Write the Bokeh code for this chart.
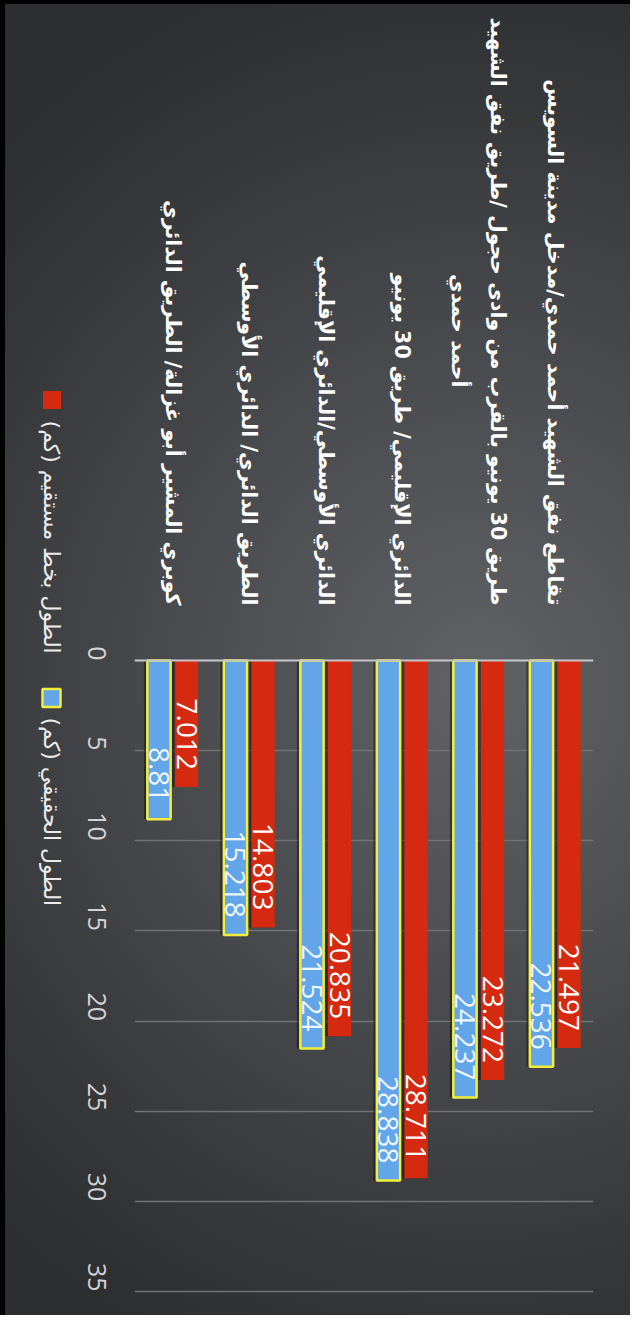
import math
from bokeh.plotting import figure
from bokeh.models import ColumnDataSource, FactorRange, Range1d, FixedTicker, Span
from bokeh.transform import dodge
from bokeh.layouts import row
from bokeh.core.properties import value
from bokeh.embed import file_html
from bokeh.resources import INLINE

# ---------------- data ----------------
categories = [
    "كوبري المشير أبو غزالة/ الطريق الدائري",
    "الطريق الدائري/ الدائري الأوسطي",
    "الدائري الأوسطي/الدائري الإقليمي",
    "الدائري الإقليمي/ طريق 30 يونيو",
    "طريق 30 يونيو بالقرب من وادى حجول /طريق نفق الشهيد\nأحمد حمدي",
    "تقاطع نفق الشهيد أحمد حمدي/مدخل مدينة السويس",
]
actual_km = [8.81, 15.218, 21.524, 28.838, 24.237, 22.536]      # الطول الحقيقي
straight_km = [7.012, 14.803, 20.835, 28.711, 23.272, 21.497]   # الطول بخط مستقيم
series_names = ["الطول بخط مستقيم (كم)", "الطول الحقيقي (كم)"]
y_ticks = [0, 5, 10, 15, 20, 25, 30, 35]

# ---------------- style ----------------
RED = "#d52a10"
BLUE = "#62a5e8"
YELLOW = "#f2ee3a"
GRADIENT = ("radial-gradient(ellipse 110% 56% at 76% 52%, "
            "#606266 0%, #4c4d51 40%, #363739 80%, #2d2e30 100%)")
RLM = "\u200f"
W, H = 630, 1315
LEG_W = 75

yr = Range1d(start=36.33, end=-36.61)

# ---------------- main plot ----------------
p = figure(width=W - LEG_W, height=H, x_range=FactorRange(*categories), y_range=yr,
           output_backend="svg", toolbar_location=None, x_axis_location=None,
           min_border_left=57, min_border_right=37, min_border_top=0, min_border_bottom=0)
p.background_fill_color = None
p.border_fill_color = None
p.outline_line_color = None

p.yaxis.ticker = FixedTicker(ticks=y_ticks)
p.yaxis.major_label_orientation = -math.pi / 2
p.yaxis.axis_line_color = None
p.yaxis.major_tick_line_color = None
p.yaxis.minor_tick_line_color = None
p.yaxis.major_label_text_font_size = "25px"
p.yaxis.major_label_text_color = "#d4d4d6"
p.yaxis.major_label_text_font = "Open Sans"
p.yaxis.major_label_standoff = 32
p.xgrid.visible = False
p.ygrid.grid_line_color = "#707276"
p.ygrid.grid_line_width = 1.3
p.add_layout(Span(location=y_ticks[0], dimension="width", line_color="#c4c5c8", line_width=2))

src = ColumnDataSource(dict(
    cat=categories,
    actual=actual_km,
    straight=straight_km,
    actual_lbl=[str(v) for v in actual_km],
    straight_lbl=[str(v) for v in straight_km],
))

# shadows
p.vbar(x=dodge("cat", -0.225, range=p.x_range), top="actual", bottom=0, width=0.305,
       fill_color="black", fill_alpha=0.4, line_color=None, source=src)
p.vbar(x=dodge("cat", 0.135, range=p.x_range), top="straight", bottom=0, width=0.305,
       fill_color="black", fill_alpha=0.4, line_color=None, source=src)
# bars
p.vbar(x=dodge("cat", -0.18, range=p.x_range), top="actual", bottom=0, width=0.305,
       fill_color=BLUE, line_color=YELLOW, line_width=2.5, source=src)
p.vbar(x=dodge("cat", 0.18, range=p.x_range), top="straight", bottom=0, width=0.305,
       fill_color=RED, line_color=None, source=src)

# value labels
p.text(x=dodge("cat", -0.18, range=p.x_range), y="actual", text="actual_lbl",
       angle=-math.pi / 2, text_align="right", text_baseline="middle", y_offset=-17,
       text_font=value("Open Sans"), text_font_size="28px", text_color="#eef6ff", source=src)
p.text(x=dodge("cat", 0.18, range=p.x_range), y="straight", text="straight_lbl",
       angle=-math.pi / 2, text_align="right", text_baseline="middle", y_offset=-17,
       text_font=value("Open Sans"), text_font_size="28px", text_color="white", source=src)

# category labels (rotated)
line1 = [c.split("\n")[0] for c in categories]
xoff1 = [19 if "\n" in c else 0 for c in categories]
lab1 = ColumnDataSource(dict(cat=categories, txt=line1, xoff=xoff1))
p.text(x="cat", y=-3.05, text="txt", x_offset="xoff", angle=-math.pi / 2,
       text_align="right", text_baseline="middle", text_font=value("DejaVu Sans"),
       text_font_style="bold", text_font_size="20.5px", text_color="white", source=lab1)
cat2 = [c for c in categories if "\n" in c]
line2 = [c.split("\n")[1] for c in cat2]
lab2 = ColumnDataSource(dict(cat=cat2, txt=line2))
p.text(x="cat", y=-15.14, text="txt", x_offset=-20, angle=-math.pi / 2,
       text_align="right", text_baseline="middle", text_font=value("DejaVu Sans"),
       text_font_style="bold", text_font_size="20.5px", text_color="white", source=lab2)

# ---------------- legend strip (rotated) ----------------
lg = figure(width=LEG_W, height=H, x_range=Range1d(0, LEG_W), y_range=yr,
            output_backend="svg", toolbar_location=None,
            x_axis_location=None, y_axis_location=None, min_border=0)
lg.background_fill_color = None
lg.border_fill_color = None
lg.outline_line_color = None
lg.grid.visible = False

lg.scatter(x=[51.5], y=[-14.45], marker="square", size=18, fill_color=RED, line_color=None)
lg.scatter(x=[51], y=[2.08], marker="square", size=18, fill_color=BLUE,
           line_color=YELLOW, line_width=2.5)
lg.text(x=[51, 51], y=[-13.31, 3.16], text=[s + RLM for s in series_names],
        angle=-math.pi / 2, text_align="left", text_baseline="middle",
        text_font=value("DejaVu Sans"), text_font_size="22px", text_color="#ececec")

layout = row(lg, p, styles={"background": GRADIENT,
                            "box-shadow": "inset 5px 4px 0 #000000"})

html = file_html(layout, INLINE)
html = html.replace("<body>", '<body style="background-color:#000000;">', 1)
open("out.html", "w").write(html)
